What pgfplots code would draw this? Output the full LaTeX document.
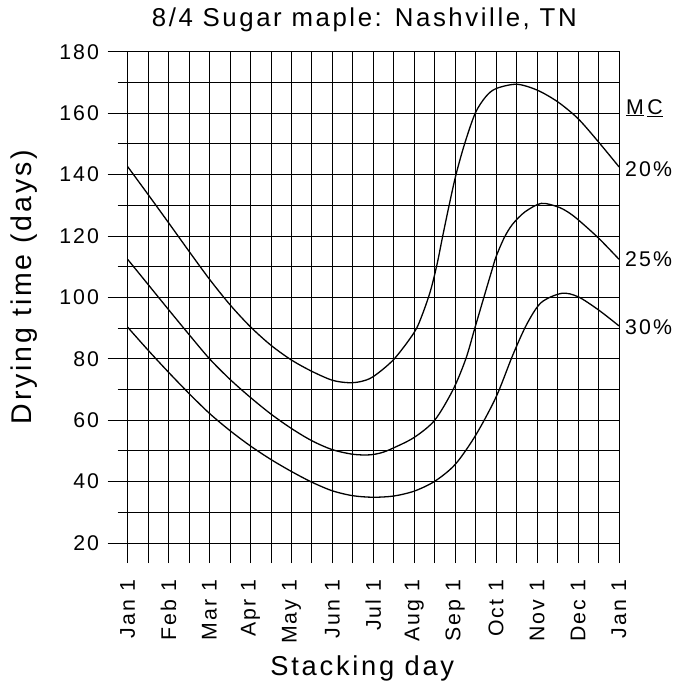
\documentclass[border=0pt]{standalone}
\usepackage{fontspec}
\setmainfont{Liberation Sans}[LetterSpace=10]
\usepackage{pgfplots}
\pgfplotsset{compat=1.18}

\begin{document}
\begin{tikzpicture}
\begin{axis}[
  at={(0,0)}, anchor=south west,
  scale only axis, width=491.4bp, height=491.3bp,
  xmin=0, xmax=12, ymin=20, ymax=180,
  xtick={0,0.5,...,12},
  xticklabels={Jan 1,{},Feb 1,{},Mar 1,{},Apr 1,{},May 1,{},Jun 1,{},Jul 1,{},Aug 1,{},Sep 1,{},Oct 1,{},Nov 1,{},Dec 1,{},Jan 1},
  ytick={20,40,...,180},
  minor ytick={30,50,...,170},
  tick pos=left, tick align=outside,
  major tick length=20bp, minor tick length=10bp,
  tick style={black, line width=0.8bp},
  grid=both,
  major grid style={black, line width=0.8bp},
  minor grid style={black, line width=0.8bp},
  axis line style={black, line width=1bp},
  /pgf/number format/assume math mode=true,
  ticklabel style={font=\fontsize{21.3bp}{25bp}\selectfont},
  yticklabel style={anchor=east},
  yticklabel shift=5bp,
  xticklabel style={rotate=90, anchor=east},
  xticklabel shift=13bp,
  title={8/4 Sugar maple: Nashville, TN},
  title style={font=\fontsize{25.8bp}{30bp}\selectfont, at={(axis description cs:0.5,1)}, anchor=base, yshift=19bp, xshift=-9bp},
  xlabel={Stacking day},
  xlabel style={font=\fontsize{27.3bp}{32bp}\selectfont, at={(axis description cs:0.5,0)}, anchor=base, yshift=-132bp, xshift=-11bp},
  ylabel={Drying time (days)},
  ylabel style={font=\fontsize{28.5bp}{33bp}\selectfont, at={(axis description cs:-0.1946,0.521)}, anchor=base},
  clip=false,
]
% 20% MC
\addplot[black, line width=1.3bp, smooth] coordinates {
(0,142.6) (0.5,133.5) (1,124.3) (1.5,115) (2,105.9) (2.5,97.6) (3,90.4)
(3.5,84.4) (4,79.6) (4.5,75.9) (5,73.0) (5.4,72.2) (5.7,72.6) (6,74.2)
(6.5,79.8) (7,88.6) (7.2,94.5) (7.4,102.3) (7.56,111) (7.7,120.3) (7.86,130.5)
(8.02,140) (8.23,150) (8.49,160) (8.75,165.4) (9,168) (9.5,169.4)
(10,167.5) (10.5,163.7) (11,158.2) (11.5,150.6) (12,142.5)
};
% 25% MC
\addplot[black, line width=1.3bp, smooth] coordinates {
(0,112.4) (0.5,104.2) (1,96) (1.5,87.9) (2,80) (2.5,73.3) (3,67.4)
(3.5,62.0) (4,57.3) (4.5,53.3) (5,50.4) (5.5,48.9) (5.9,48.7) (6.2,49.4)
(6.5,51.0) (7,54.4) (7.5,60) (7.95,70) (8.26,80) (8.48,90) (8.7,100)
(8.9,109) (9.0,113.3) (9.2,119.5) (9.4,123.8) (9.7,127.8) (10.1,130.6)
(10.5,129.5) (10.75,127.8) (11,125.3) (11.5,119.3) (12,112.4)
};
% 30% MC
\addplot[black, line width=1.3bp, smooth] coordinates {
(0,90.3) (0.5,82.8) (1,75.6) (1.5,68.7) (2,62.2) (2.5,56.6) (3,51.6)
(3.5,47.2) (4,43.3) (4.5,39.8) (5,37.0) (5.5,35.4) (6,34.9) (6.5,35.3)
(7,36.9) (7.5,40.1) (8,45.6) (8.5,55.1) (9,67.6) (9.4,81) (9.75,91.3)
(10.1,98.3) (10.6,101.3) (11,100.2) (11.5,95.9) (12,90.7)
};
\node[anchor=west, inner sep=0pt, xshift=7bp, font=\fontsize{21.3bp}{25bp}\selectfont] at (axis cs:12,161.7) {\underline{M}\,\underline{C}};
\node[anchor=west, inner sep=0pt, xshift=6bp, font=\fontsize{21.3bp}{25bp}\selectfont] at (axis cs:12,141.8) {20\%};
\node[anchor=west, inner sep=0pt, xshift=6bp, font=\fontsize{21.3bp}{25bp}\selectfont] at (axis cs:12,112.5) {25\%};
\node[anchor=west, inner sep=0pt, xshift=6bp, font=\fontsize{21.3bp}{25bp}\selectfont] at (axis cs:12,90.2) {30\%};
\end{axis}
\pgfresetboundingbox
\path[use as bounding box] (-127.6bp,-144bp) rectangle (563.4bp,543bp);
\end{tikzpicture}
\end{document}
